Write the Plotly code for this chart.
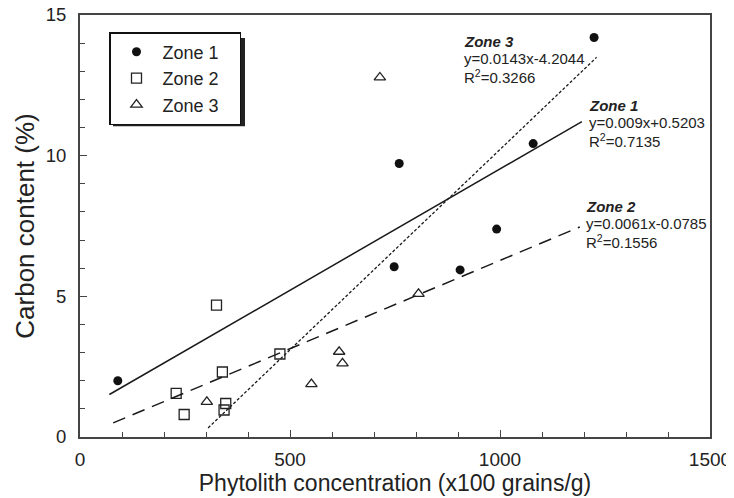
import plotly.graph_objects as go

# ---- data ----
zone1_x = [90, 748, 760, 905, 992, 1079, 1224]
zone1_y = [2.0, 6.05, 9.72, 5.94, 7.39, 10.43, 14.2]

zone2_x = [229, 248, 325, 339, 343, 347, 476]
zone2_y = [1.55, 0.8, 4.69, 2.31, 0.96, 1.19, 2.95]

zone3_x = [302, 551, 617, 625, 714, 806]
zone3_y = [1.25, 1.88, 3.03, 2.62, 12.78, 5.09]

# trend lines as drawn (slope, intercept, x range)
trend_names = ["Zone 1", "Zone 2", "Zone 3"]
trend_slope = [0.00862, 0.00627, 0.01424]
trend_intercept = [0.907, 0.005, -4.02]
trend_xmin = [70, 79, 305]
trend_xmax = [1195, 1190, 1230]

eq_labels = ["y=0.009x+0.5203", "y=0.0061x-0.0785", "y=0.0143x-4.2044"]
r2_labels = ["R<sup>2</sup>=0.7135", "R<sup>2</sup>=0.1556", "R<sup>2</sup>=0.3266"]
label_x = [1207, 1200, 910]
label_y = [11.79, 8.20, 14.07]

x_ticks = [0, 500, 1000, 1500]
y_ticks = [0, 5, 10, 15]

FONT = "Liberation Sans, Arial, sans-serif"
TXT = "#222222"
PAD = "&nbsp;" * 3  # widens the legend box like the reference

fig = go.Figure()

fig.add_trace(go.Scatter(x=zone1_x, y=zone1_y, mode="markers", name="Zone 1" + PAD,
                         marker=dict(symbol="circle", size=9, color="#111111",
                                     line=dict(width=0))))
fig.add_trace(go.Scatter(x=zone2_x, y=zone2_y, mode="markers", name="Zone 2" + PAD,
                         marker=dict(symbol="square-open", size=10, color="#222222",
                                     line=dict(width=1.3))))
fig.add_trace(go.Scatter(x=zone3_x, y=zone3_y, mode="markers", name="Zone 3" + PAD,
                         marker=dict(symbol="triangle-up-open", size=10, color="#222222",
                                     line=dict(width=1.3))))

dashes = ["solid", "13px,8px", "3px,2px"]
widths = [1.5, 1.5, 1.3]
for i in range(3):
    xs = [trend_xmin[i], trend_xmax[i]]
    ys = [trend_slope[i] * v + trend_intercept[i] for v in xs]
    fig.add_trace(go.Scatter(x=xs, y=ys, mode="lines", showlegend=False,
                             line=dict(color="#1a1a1a", width=widths[i], dash=dashes[i]),
                             hoverinfo="skip"))

ann = []
for i in range(3):
    ann.append(dict(x=label_x[i], y=label_y[i], xref="x", yref="y",
                    text="<b><i>" + trend_names[i] + "</i></b>", showarrow=False,
                    xanchor="left", yanchor="middle",
                    font=dict(family=FONT, size=15, color=TXT)))
    ann.append(dict(x=label_x[i], y=label_y[i] - 0.62, xref="x", yref="y",
                    text=eq_labels[i], showarrow=False,
                    xanchor="left", yanchor="middle",
                    font=dict(family=FONT, size=15, color=TXT)))
    ann.append(dict(x=label_x[i], y=label_y[i] - 1.26, xref="x", yref="y",
                    text=r2_labels[i], showarrow=False,
                    xanchor="left", yanchor="middle",
                    font=dict(family=FONT, size=15, color=TXT)))

# legend shadow
shapes = [dict(type="rect", xref="paper", yref="paper",
               x0=(113 - 80) / 630, x1=(245 - 80) / 630,
               y0=(436 - 126) / 421, y1=(436 - 38) / 421,
               fillcolor="#222222", line=dict(width=0), layer="above")]

# page body has an 8px margin, so the figure is 8px smaller than the window
fig.update_layout(
    width=726, height=490,
    margin=dict(l=72, r=24, t=7, b=61),
    paper_bgcolor="white", plot_bgcolor="white",
    font=dict(family=FONT, color=TXT),
    annotations=ann, shapes=shapes,
    legend=dict(x=(109 - 80) / 630, y=(436 - 32) / 421, xanchor="left", yanchor="top",
                bgcolor="white", bordercolor="#111111", borderwidth=1.5,
                font=dict(family=FONT, size=18, color=TXT),
                itemwidth=42, tracegroupgap=0),
    showlegend=True,
)

fig.update_xaxes(range=[0, 1500], tickvals=x_ticks, ticks="inside", ticklen=7,
                 tickwidth=1.3, tickcolor="#444444", automargin=False,
                 ticklabeloverflow="allow",
                 minor=dict(dtick=100, ticks="inside", ticklen=5, tickwidth=1.3,
                            tickcolor="#444444"),
                 showline=True, linecolor="#444444", linewidth=2, mirror=True,
                 showgrid=False, zeroline=False,
                 tickfont=dict(family=FONT, size=19, color=TXT),
                 ticklabelstandoff=4,
                 title=dict(text="Phytolith concentration (x100 grains/g)",
                            font=dict(family=FONT, size=23, color=TXT), standoff=0))
fig.update_yaxes(range=[0, 15], tickvals=y_ticks, ticks="inside", ticklen=7,
                 tickwidth=1.3, tickcolor="#444444", automargin=False,
                 ticklabeloverflow="allow",
                 minor=dict(dtick=1, ticks="inside", ticklen=5, tickwidth=1.3,
                            tickcolor="#444444"),
                 showline=True, linecolor="#444444", linewidth=2, mirror=True,
                 showgrid=False, zeroline=False,
                 tickfont=dict(family=FONT, size=18.5, color=TXT),
                 ticklabelstandoff=8,
                 title=dict(text="Carbon content (%)",
                            font=dict(family=FONT, size=26, color=TXT), standoff=4))

fig.write_html("out.html")
